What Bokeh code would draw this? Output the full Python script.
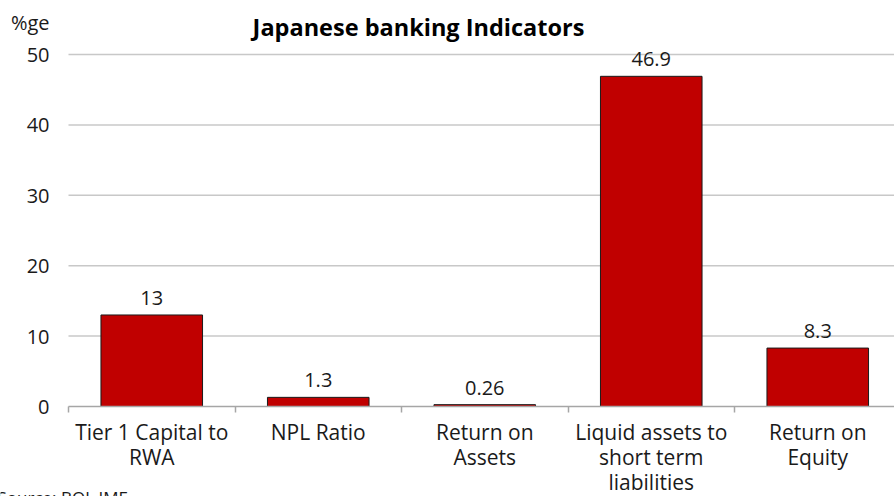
from bokeh.plotting import figure
from bokeh.models import (ColumnDataSource, LabelSet, Label, Range1d, FixedTicker,
                          LinearAxis)
from bokeh.core.properties import value
from bokeh.embed import file_html
from bokeh.resources import INLINE

# ---- data ----
categories = ["Tier 1 Capital to\nRWA", "NPL Ratio", "Return on\nAssets",
              "Liquid assets to\nshort term\nliabilities", "Return on\nEquity"]
values = [13, 1.3, 0.26, 46.9, 8.3]
y_ticks = [0, 10, 20, 30, 40, 50]
title_text = "Japanese banking Indicators"
unit_text = "%ge"
source_text = "Source: BOJ, IMF"

FONT = "Open Sans"
RED = "#C00000"
TXT = "#1a1a1a"

# layout in pixels
X0, XS = 68, 166.5     # left of first category, px per category
Y0, YS = 406, 7.04     # pixel row of 0, px per unit
W, H = 894, 496

def dx(px):
    return (px - X0) / XS

def dy(py):
    return (Y0 - py) / YS

n = len(categories)
xs = [i + 0.5 for i in range(n)]
src = ColumnDataSource(dict(x=xs, top=values, label=[f"{v:g}" for v in values]))

p = figure(width=W, height=H, output_backend="svg", toolbar_location=None,
           x_range=Range1d(dx(0), dx(W)), y_range=Range1d(dy(H), dy(0)),
           min_border=0, x_axis_type=None, y_axis_type=None)
p.outline_line_color = None
p.background_fill_color = "white"
p.border_fill_color = "white"
p.xgrid.grid_line_color = None
p.ygrid.grid_line_color = None

# horizontal gridlines at the tick values (from x = 0 to the last category)
gy = y_ticks[1:]
p.segment(x0=[0] * len(gy), x1=[n] * len(gy), y0=gy, y1=gy,
          line_color="#c8c8c8", line_width=1.5)

p.vbar(x="x", top="top", width=0.61, source=src, fill_color=RED,
       line_color="#1a1a1a", line_width=1)

# y axis (unit label drawn as an extra label above the 50 tick)
unit_y = dy(22)
ya = LinearAxis(ticker=FixedTicker(ticks=y_ticks + [unit_y]), fixed_location=0)
ya.major_label_overrides = {unit_y: unit_text}
ya.axis_line_color = None
ya.major_tick_line_color = None
ya.minor_tick_line_color = None
ya.major_tick_out = 0
ya.major_tick_in = 0
ya.major_label_standoff = 19
ya.major_label_text_font = FONT
ya.major_label_text_font_size = "20px"
ya.major_label_text_color = TXT
p.add_layout(ya, "left")

# x axis: labels at centres, tick marks at boundaries (minor ticks)
xa = LinearAxis(ticker=FixedTicker(ticks=xs, minor_ticks=list(range(n + 1))),
                fixed_location=0, bounds=(0, n))
xa.major_label_overrides = {x: c for x, c in zip(xs, categories)}
xa.axis_line_color = "#a6a6a6"
xa.axis_line_width = 1.5
xa.major_tick_line_color = None
xa.minor_tick_line_color = "#a6a6a6"
xa.minor_tick_line_width = 1.5
xa.minor_tick_out = 6
xa.minor_tick_in = 0
xa.major_tick_out = 0
xa.major_tick_in = 0
xa.major_label_standoff = 5
xa.major_label_text_font = FONT
xa.major_label_text_font_size = "21px"
xa.major_label_text_color = TXT
xa.major_label_text_line_height = 0.91
p.add_layout(xa, "below")

labels = LabelSet(x="x", y="top", text="label", source=src, y_offset=10,
                  text_align="center", text_baseline="alphabetic",
                  text_font=value(FONT), text_font_size=value("20px"),
                  text_color=TXT)
p.add_layout(labels)

p.add_layout(Label(x=dx(418), y=dy(26), text=title_text, text_align="center",
                   text_baseline="alphabetic", text_font=FONT,
                   text_font_size="23.5px", text_font_style="bold", text_color="black"))
p.add_layout(Label(x=dx(-3), y=dy(485), text=source_text, text_align="left",
                   text_baseline="top", text_font=FONT,
                   text_font_size="17px", text_color=TXT))

open("out.html", "w").write(file_html(p, INLINE))
